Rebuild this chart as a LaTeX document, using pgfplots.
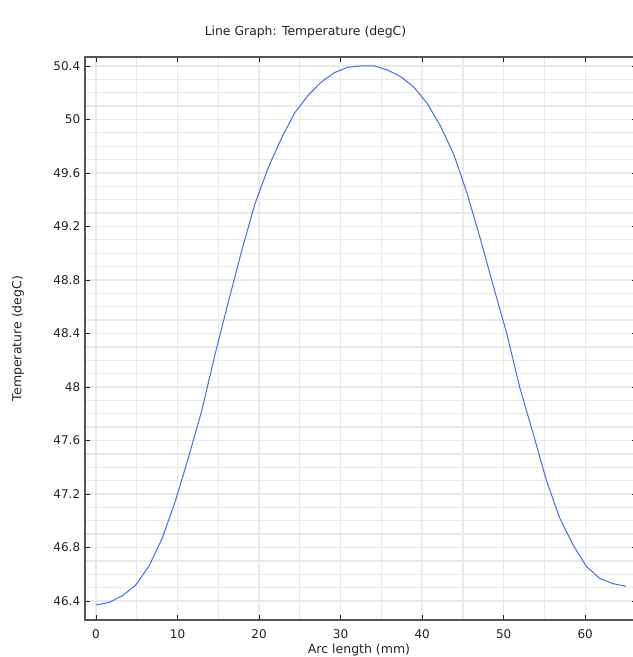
\documentclass[border=0pt]{standalone}
\usepackage{fontspec}
\setmainfont{DejaVu Sans}
\usepackage{pgfplots}
\pgfplotsset{compat=1.18}
\usepackage{pgfplotstable}

\definecolor{curveblue}{RGB}{72,104,255}
\definecolor{gridgray}{RGB}{233,233,233}
\definecolor{framegray}{RGB}{85,85,85}
\definecolor{textgray}{RGB}{35,35,35}

% temperature along the arc
\pgfplotstableread{
s      T
0      46.37
1.625  46.39
3.25   46.44
4.875  46.52
6.5    46.66
8.125  46.87
9.75   47.15
11.375 47.48
13.0   47.83
14.625 48.25
16.25  48.64
17.875 49.02
19.5   49.37
21.125 49.64
22.75  49.86
24.375 50.05
26.0   50.18
27.625 50.28
29.25  50.35
30.875 50.39
32.5   50.40
34.125 50.40
35.75  50.37
37.375 50.32
39.0   50.24
40.625 50.12
42.25  49.95
43.875 49.74
45.5   49.45
47.125 49.11
48.75  48.75
50.375 48.40
52.0   47.99
53.625 47.65
55.25  47.30
56.875 47.02
58.5   46.82
60.125 46.66
61.75  46.57
63.375 46.53
65.0   46.51
}\temperature

\begin{document}
\begin{tikzpicture}
\begin{axis}[
  name=main,
  scale only axis, width=552pt, height=563pt,
  xmin=-1.35, xmax=66.35, ymin=46.258, ymax=50.467,
  xtick={0,10,20,30,40,50,60},
  ytick={46.4,46.8,47.2,47.6,48.0,48.4,48.8,49.2,49.6,50.0,50.4},
  minor x tick num=1, minor y tick num=3,
  minor tick length=0pt,
  grid=both,
  major grid style={gridgray, line width=1.3pt},
  minor grid style={gridgray, line width=1.3pt},
  axis line style={framegray, line width=1.1pt},
  major tick style={textgray, line width=0.8pt},
  major tick length=5pt,
  tick align=inside,
  /pgf/number format/assume math mode=true,
  /pgf/number format/fixed,
  tick label style={font=\fontsize{12}{14}\selectfont, text=textgray},
  yticklabel style={xshift=-1.3pt},
  xticklabel style={yshift=-6pt},
  xlabel={Arc length (mm)},
  ylabel={Temperature (degC)},
  every axis x label/.style={at={(axis description cs:0.4964,0)}, anchor=center,
    yshift=-30pt, font=\fontsize{12.5}{14}\selectfont, text=textgray},
  every axis y label/.style={at={(axis description cs:-0.1214,0.5)},
    anchor=center, rotate=90, font=\fontsize{12.5}{14}\selectfont, text=textgray},
]
\addplot[curveblue, line width=1pt] table[x=s, y=T] {\temperature};
\end{axis}
\node[font=\fontsize{12.4}{14}\selectfont, text=textgray, anchor=center]
  at ([xshift=220.5pt, yshift=25pt]main.north west) {Line Graph: Temperature (degC)};
\pgfresetboundingbox
\path[use as bounding box] ([xshift=-85pt, yshift=-37pt]main.south west)
  rectangle ([xshift=-4pt, yshift=57pt]main.north east);
\end{tikzpicture}
\end{document}
